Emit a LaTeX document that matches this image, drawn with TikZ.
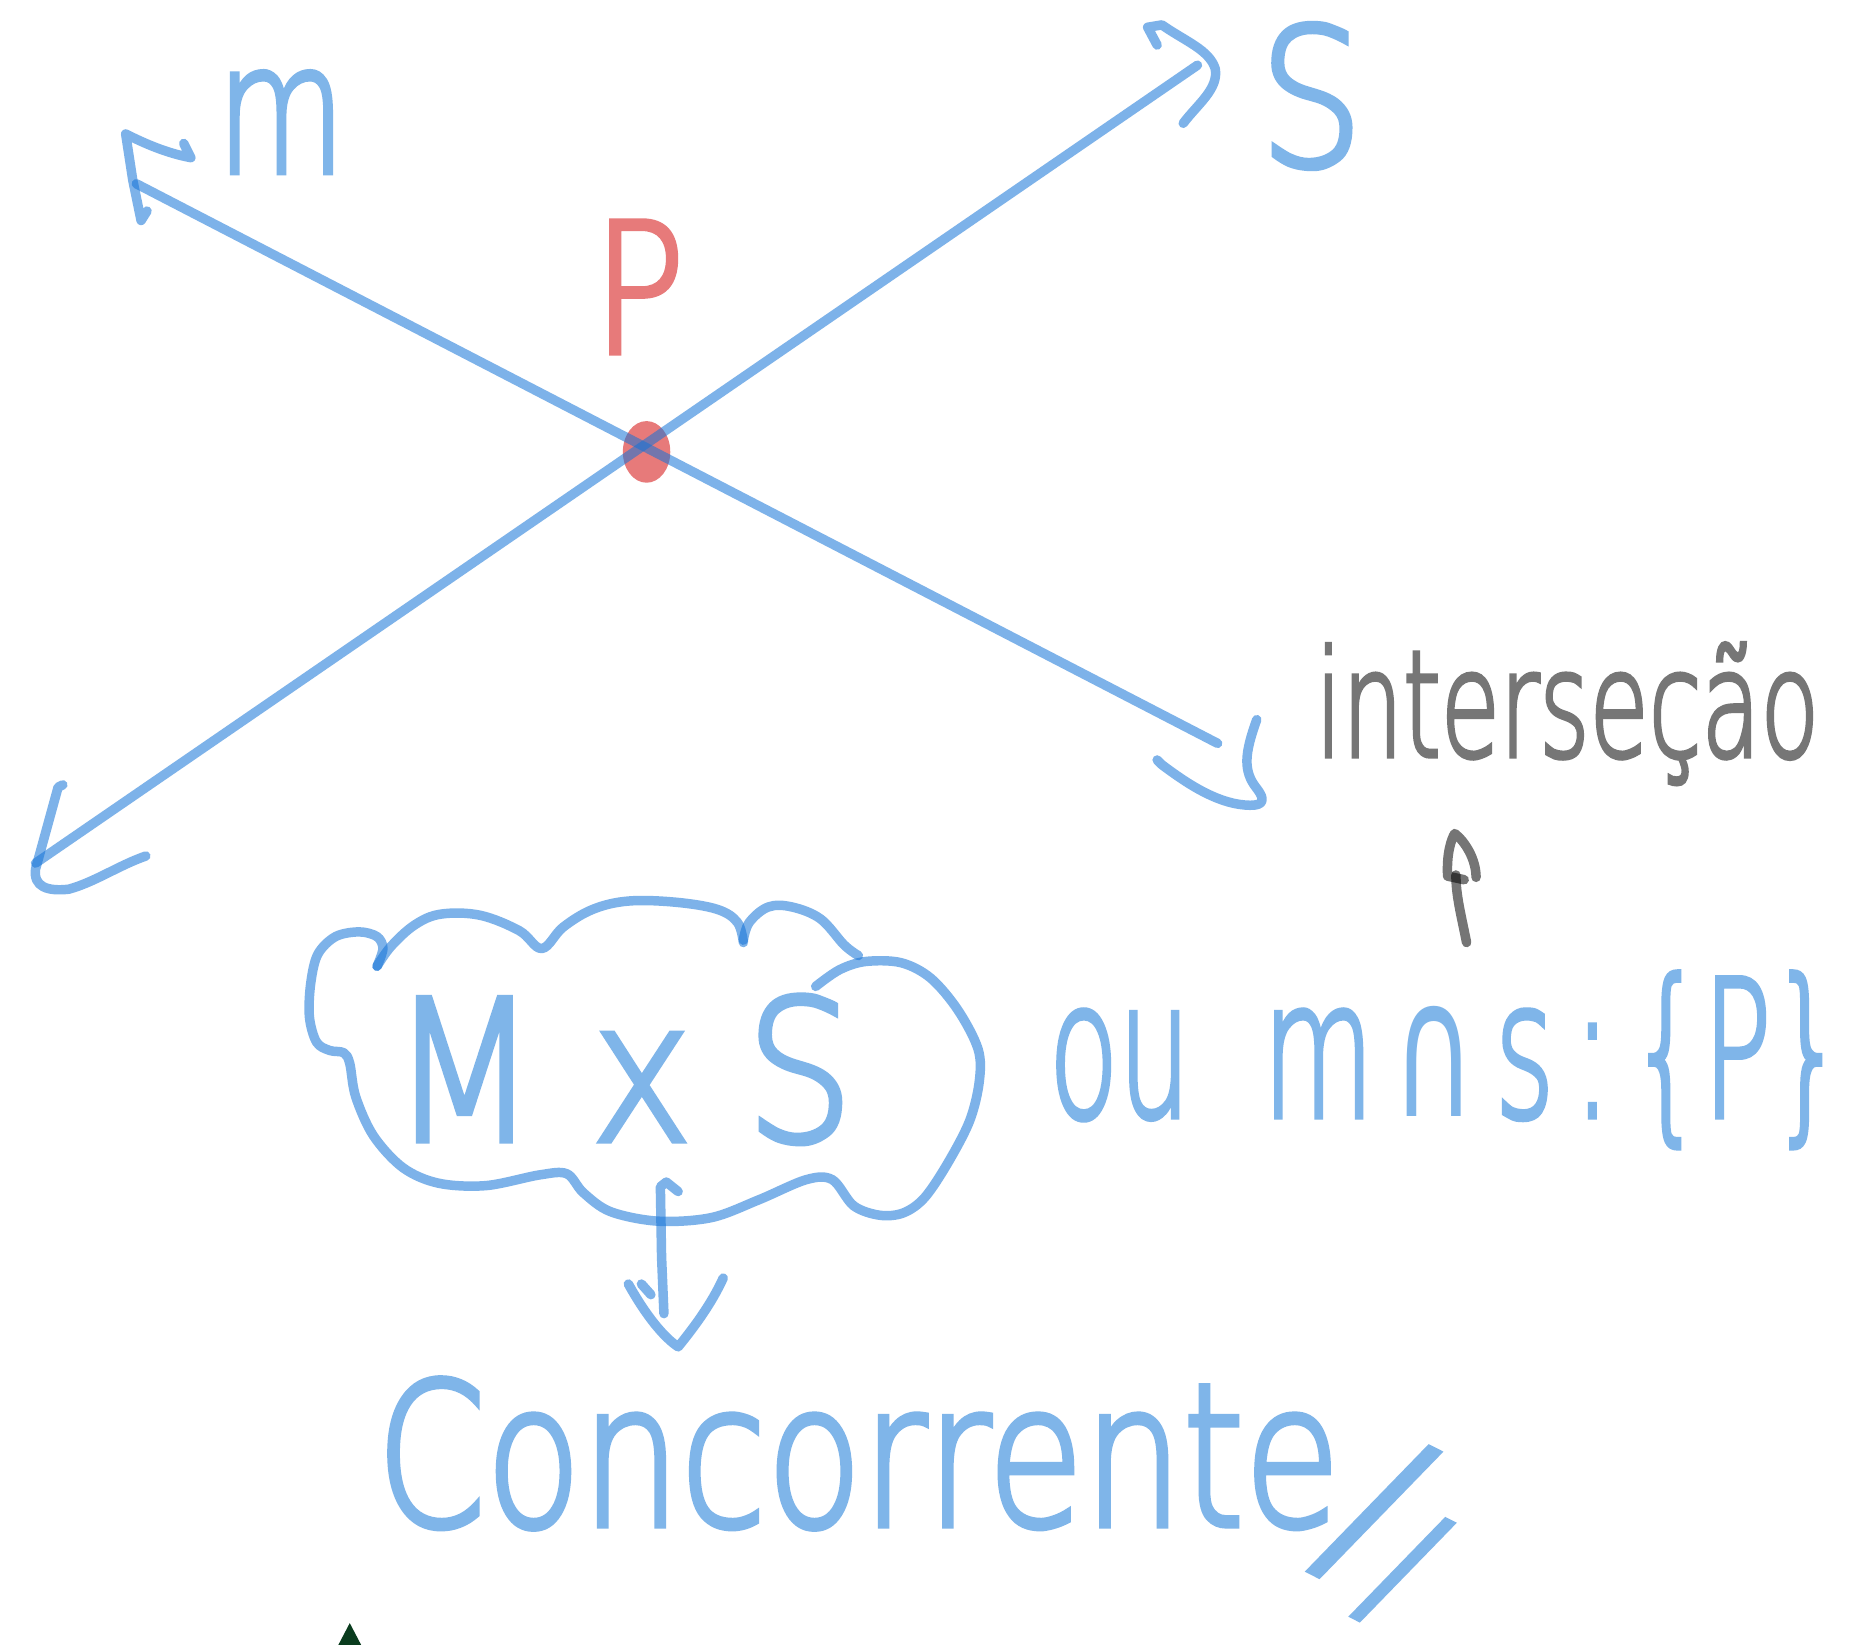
\documentclass[tikz,border=0pt]{standalone}
\usepackage{fontspec}
\usepackage{graphicx}
\usetikzlibrary{calc}
\newfontfamily\hand[FakeBold=3]{DejaVu Sans ExtraLight}
\newfontfamily\symb{DejaVu Sans}
\newlength\px
\setlength\px{1.1856pt}
% scale a piece of text to a given width and total height (in px)
\newcommand\handfit[3]{\resizebox*{#1\px}{#2\px}{#3}}
\definecolor{inkblue}{RGB}{20,115,215}
\definecolor{softblue}{RGB}{127,181,233}
\definecolor{softred}{RGB}{231,122,122}
\definecolor{softgray}{RGB}{118,118,118}
\definecolor{leafgreen}{RGB}{10,60,30}
\tikzset{
  pen/.style={line width=8\px, line cap=round, line join=round},
  bluepen/.style={pen, draw=inkblue, draw opacity=0.55},
  graypen/.style={pen, draw=black, draw opacity=0.54},
  handtext/.style={inner sep=0pt, outer sep=0pt, font=\hand},
}
\begin{document}
\begin{tikzpicture}[x=1.1856pt, y=-1.1856pt]
\useasboundingbox (0,0) rectangle (1568,1387);
\fill[white] (0,0) rectangle (1568,1387);
\clip (0,0) rectangle (1568,1387);

% the two lines m and s
\coordinate (mA) at (115,155);
\coordinate (mB) at (1027,627);
\coordinate (sA) at (30,728);
\coordinate (sB) at (1010,55);
\coordinate (P) at (intersection of mA--mB and sA--sB);

% common point
\fill[softred] ($(P)+(3,5)$) ellipse [x radius=20\px, y radius=26\px];

\draw[bluepen] (mA) -- (mB);
\draw[bluepen] (sA) -- (sB);

% hand-drawn arrow ends of m
\draw[bluepen] (155,121) -- (161,133) .. controls (140,129) and (122,121) .. (106,113)
  -- (112,152) -- (119,186) -- (124,178);
\draw[bluepen] (1060,607) .. controls (1050,635) and (1048,650) .. (1060,665)
  .. controls (1070,678) and (1062,680) .. (1050,679)
  .. controls (1025,677) and (1000,660) .. (980,645) -- (976,641);
% hand-drawn arrow ends of s
\draw[bluepen] (976,38) -- (968,23) -- (980,21) .. controls (1000,35) and (1020,42) .. (1025,58)
  .. controls (1028,75) and (1010,88) .. (998,104);
\draw[bluepen] (53,662) -- (49,664) -- (30,733) .. controls (28,748) and (40,752) .. (58,750)
  .. controls (80,744) and (100,730) .. (123,722);

% labels
\node[handtext, text=softblue] (mlabel) at (237,103) {\handfit{108}{85}{m}};
\node[handtext, text=softblue] (slabel) at (1106,81) {\handfit{88}{122}{S}};
\node[handtext, text=softred] (plabel) at (539,242) {\handfit{78}{111}{P}};
\node[handtext, text=softgray] (inter) at (1322,602) {\handfit{425}{119}{interseção}};

% cloud around M x S
\draw[bluepen] plot[smooth, tension=0.6] coordinates {(318,815) (330,798) (350,780) (372,771)
  (405,772) (438,785) (457,800) (475,782) (500,767) (530,760) (570,761) (605,767) (622,778) (627,795)};
\draw[bluepen] plot[smooth, tension=0.6] coordinates {(627,793) (632,778) (648,765) (668,765)
  (692,775) (712,797) (724,806)};
\draw[bluepen] plot[smooth, tension=0.55] coordinates {(688,832) (708,818) (730,811) (760,812)
  (785,825) (808,852) (825,885) (826,912) (818,945) (800,980) (780,1010) (762,1023) (742,1025)
  (720,1017) (702,995) (680,995) (640,1012) (600,1027) (555,1030) (515,1022) (492,1006) (478,990)
  (455,991) (410,1000) (370,998) (340,985) (315,958) (300,925) (295,897) (290,888) (278,886)
  (267,879) (261,858) (262,830) (268,805) (283,790) (303,786) (318,790) (323,800) (318,815)};
\node[handtext, text=softblue] (mxs) at (525,902) {\handfit{390}{125}{M x S}};

% second notation
\node[handtext, text=softblue] (ou) at (1220,894)
  {\handfit{670}{148}{ou\ \ m\,{\symb ∩}\,s\,:\,\{P\}}};
\coordinate (capfoot) at (1237,795);
\coordinate (captip) at (1228,738);
\draw[graypen] (capfoot) .. controls (1232,770) and (1228,755) .. (captip);
\draw[graypen] (1235,742) -- (1221,739) .. controls (1220,720) and (1224,708) .. (1227,703)
  .. controls (1236,710) and (1245,725) .. (1245,740);

% arrow from the cloud to the conclusion
\coordinate (cloudfoot) at (557,1001);
\coordinate (downtip) at (560,1108);
\draw[bluepen] (572,1005) -- (562,997) -- (cloudfoot) -- (558,1060) -- (downtip);
\draw[bluepen] (530,1083) .. controls (545,1110) and (560,1128) .. (572,1136)
  .. controls (585,1120) and (600,1100) .. (610,1078);
\draw[bluepen] (541,1083) -- (549,1092);

\node[handtext, text=softblue] (conc) at (724,1226) {\handfit{812}{127}{Concorrente}};
\node[handtext, text=softblue] (slashA) at (1159,1275) {\rotatebox{-27}{\resizebox*{!}{138\px}{/}}};
\node[handtext, text=softblue] (slashB) at (1183,1324) {\rotatebox{-27}{\resizebox*{!}{108\px}{/}}};

% leaf tip at the lower edge
\fill[leafgreen] (283,1392) -- (295,1369) -- (307,1392) -- cycle;
\end{tikzpicture}
\end{document}
